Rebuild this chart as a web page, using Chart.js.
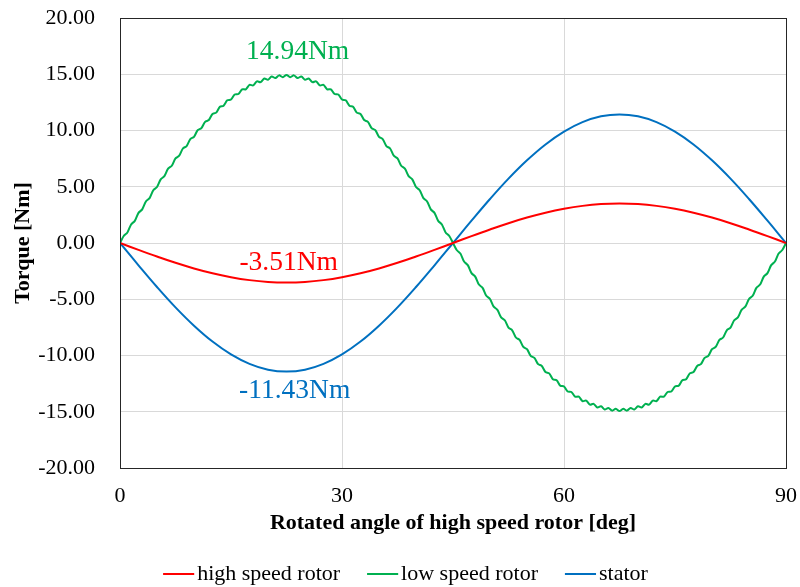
<!DOCTYPE html>
<html>
<head>
<meta charset="UTF-8">
<title>Torque</title>
<script src="https://cdn.jsdelivr.net/npm/chart.js"></script>
<style>
    html, body { margin: 0; padding: 0; background: #fff; }
</style>
</head>
<body>
<canvas id="grafico" width="800" height="587"></canvas>
<script>
// angles [deg] for the high speed rotor and stator curves
const anguloLento = [0, 2.5, 5, 7.5, 10, 12.5, 15, 17.5, 20, 22.5, 25, 27.5, 30, 32.5, 35, 37.5, 40, 42.5, 45,
    47.5, 50, 52.5, 55, 57.5, 60, 62.5, 65, 67.5, 70, 72.5, 75, 77.5, 80, 82.5, 85, 87.5, 90];

const highSpeed = [0, -0.61, -1.20, -1.76, -2.26, -2.69, -3.04, -3.30, -3.46, -3.51, -3.46, -3.30, -3.04, -2.69, -2.26, -1.76, -1.20, -0.61, 0,
    0.61, 1.20, 1.76, 2.26, 2.69, 3.04, 3.30, 3.46, 3.51, 3.46, 3.30, 3.04, 2.69, 2.26, 1.76, 1.20, 0.61, 0];

const stator = [0, -1.98, -3.91, -5.72, -7.35, -8.76, -9.90, -10.74, -11.26, -11.43, -11.26, -10.74, -9.90, -8.76, -7.35, -5.72, -3.91, -1.98, 0,
    1.98, 3.91, 5.72, 7.35, 8.76, 9.90, 10.74, 11.26, 11.43, 11.26, 10.74, 9.90, 8.76, 7.35, 5.72, 3.91, 1.98, 0];

// angles [deg] for the low speed rotor curve (finer, it has ripple)
const anguloFino = [0, 0.5, 1, 1.5, 2, 2.5, 3, 3.5, 4, 4.5, 5, 5.5, 6, 6.5, 7, 7.5, 8, 8.5, 9, 9.5,
    10, 10.5, 11, 11.5, 12, 12.5, 13, 13.5, 14, 14.5, 15, 15.5, 16, 16.5, 17, 17.5, 18, 18.5, 19, 19.5,
    20, 20.5, 21, 21.5, 22, 22.5, 23, 23.5, 24, 24.5, 25, 25.5, 26, 26.5, 27, 27.5, 28, 28.5, 29, 29.5,
    30, 30.5, 31, 31.5, 32, 32.5, 33, 33.5, 34, 34.5, 35, 35.5, 36, 36.5, 37, 37.5, 38, 38.5, 39, 39.5,
    40, 40.5, 41, 41.5, 42, 42.5, 43, 43.5, 44, 44.5, 45, 45.5, 46, 46.5, 47, 47.5, 48, 48.5, 49, 49.5,
    50, 50.5, 51, 51.5, 52, 52.5, 53, 53.5, 54, 54.5, 55, 55.5, 56, 56.5, 57, 57.5, 58, 58.5, 59, 59.5,
    60, 60.5, 61, 61.5, 62, 62.5, 63, 63.5, 64, 64.5, 65, 65.5, 66, 66.5, 67, 67.5, 68, 68.5, 69, 69.5,
    70, 70.5, 71, 71.5, 72, 72.5, 73, 73.5, 74, 74.5, 75, 75.5, 76, 76.5, 77, 77.5, 78, 78.5, 79, 79.5,
    80, 80.5, 81, 81.5, 82, 82.5, 83, 83.5, 84, 84.5, 85, 85.5, 86, 86.5, 87, 87.5, 88, 88.5, 89, 89.5, 90];

const lowSpeed = [0, 0.62, 0.94, 1.65, 1.97, 2.68, 2.99, 3.69, 3.99, 4.69, 4.98, 5.66, 5.94, 6.61, 6.87, 7.52, 7.76, 8.40, 8.62, 9.24,
    9.44, 10.03, 10.21, 10.77, 10.93, 11.47, 11.59, 12.11, 12.20, 12.68, 12.75, 13.20, 13.24, 13.66, 13.66, 14.05, 14.01, 14.37, 14.30, 14.62,
    14.51, 14.80, 14.66, 14.90, 14.73, 14.94, 14.73, 14.90, 14.66, 14.80, 14.51, 14.62, 14.30, 14.37, 14.01, 14.05, 13.66, 13.66, 13.24, 13.20,
    12.75, 12.68, 12.20, 12.11, 11.59, 11.47, 10.93, 10.77, 10.21, 10.03, 9.44, 9.24, 8.62, 8.40, 7.76, 7.52, 6.87, 6.61, 5.94, 5.66,
    4.98, 4.69, 3.99, 3.69, 2.99, 2.68, 1.97, 1.65, 0.94, 0.62, 0,
    -0.62, -0.94, -1.65, -1.97, -2.68, -2.99, -3.69, -3.99, -4.69, -4.98, -5.66, -5.94, -6.61, -6.87, -7.52, -7.76, -8.40, -8.62, -9.24,
    -9.44, -10.03, -10.21, -10.77, -10.93, -11.47, -11.59, -12.11, -12.20, -12.68, -12.75, -13.20, -13.24, -13.66, -13.66, -14.05, -14.01, -14.37, -14.30, -14.62,
    -14.51, -14.80, -14.66, -14.90, -14.73, -14.94, -14.73, -14.90, -14.66, -14.80, -14.51, -14.62, -14.30, -14.37, -14.01, -14.05, -13.66, -13.66, -13.24, -13.20,
    -12.75, -12.68, -12.20, -12.11, -11.59, -11.47, -10.93, -10.77, -10.21, -10.03, -9.44, -9.24, -8.62, -8.40, -7.76, -7.52, -6.87, -6.61, -5.94, -5.66,
    -4.98, -4.69, -3.99, -3.69, -2.99, -2.68, -1.97, -1.65, -0.94, -0.62, 0];

// peak value labels
const notas = ['14.94Nm', '-3.51Nm', '-11.43Nm'];
const notasX = [24.0, 22.8, 23.6];
const notasY = [17.0, -1.75, -13.1];

const VERMELHO = '#ff0000';
const VERDE = '#00b050';
const AZUL = '#0070c0';
const FONTE = '"Liberation Serif", "Times New Roman", serif';

function pontos(xs, ys) {
    return xs.map((x, i) => ({ x: x, y: ys[i] }));
}

const notasPlugin = {
    id: 'notas',
    afterDatasetsDraw(chart) {
        const ctx = chart.ctx;
        const sx = chart.scales.x, sy = chart.scales.y;
        const cores = [VERDE, VERMELHO, AZUL];
        ctx.save();
        ctx.font = '27.5px ' + FONTE;
        ctx.textAlign = 'center';
        ctx.textBaseline = 'middle';
        notas.forEach((t, i) => {
            ctx.fillStyle = cores[i];
            ctx.fillText(t, sx.getPixelForValue(notasX[i]), sy.getPixelForValue(notasY[i]));
        });
        ctx.restore();
    }
};

const moldura = {
    id: 'moldura',
    afterDraw(chart) {
        const a = chart.chartArea;
        const ctx = chart.ctx;
        ctx.save();
        ctx.strokeStyle = '#262626';
        ctx.lineWidth = 1;
        ctx.strokeRect(Math.round(a.left) + 0.5, Math.round(a.top) + 0.5, Math.round(a.right - a.left), Math.round(a.bottom - a.top));
        ctx.restore();
    }
};

const ctx = document.getElementById('grafico').getContext('2d');
new Chart(ctx, {
    type: 'line',
    data: {
        datasets: [
            { label: 'high speed rotor', data: pontos(anguloLento, highSpeed), borderColor: VERMELHO, backgroundColor: VERMELHO, borderWidth: 2, pointRadius: 0, tension: 0.4 },
            { label: 'low speed rotor', data: pontos(anguloFino, lowSpeed), borderColor: VERDE, backgroundColor: VERDE, borderWidth: 2, pointRadius: 0, tension: 0.3 },
            { label: 'stator', data: pontos(anguloLento, stator), borderColor: AZUL, backgroundColor: AZUL, borderWidth: 2, pointRadius: 0, tension: 0.4 }
        ]
    },
    options: {
        responsive: false,
        animation: false,
        layout: { padding: { top: 18, right: 14, left: 33, bottom: -8 } },
        plugins: {
            tooltip: { enabled: false },
            legend: {
                position: 'bottom',
                labels: {
                    usePointStyle: true,
                    pointStyle: 'line',
                    boxWidth: 15,
                    padding: 35,
                    color: '#000',
                    font: { family: FONTE, size: 22 }
                }
            }
        },
        scales: {
            x: {
                type: 'linear',
                min: 0, max: 90,
                afterFit: s => { s.height = 60; s.paddingLeft = 0; s.paddingRight = 0; },
                ticks: { stepSize: 30, color: '#000', padding: 15, font: { family: FONTE, size: 22 } },
                grid: { color: '#d9d9d9', drawTicks: false },
                border: { display: false },
                title: { display: true, text: 'Rotated angle of high speed rotor [deg]', color: '#000', padding: { top: 4, bottom: -9 }, font: { family: FONTE, size: 22, weight: 'bold' } }
            },
            y: {
                min: -20, max: 20,
                afterFit: s => { s.width = 87; s.paddingTop = 0; s.paddingBottom = 0; },
                ticks: { stepSize: 5, color: '#000', padding: 25, font: { family: FONTE, size: 22 }, callback: v => v.toFixed(2) },
                grid: { color: '#d9d9d9', drawTicks: false },
                border: { display: false },
                title: { display: true, text: 'Torque [Nm]', color: '#000', padding: { top: -23, bottom: 0 }, font: { family: FONTE, size: 22, weight: 'bold' } }
            }
        }
    },
    plugins: [notasPlugin, moldura]
});
</script>
</body>
</html>
